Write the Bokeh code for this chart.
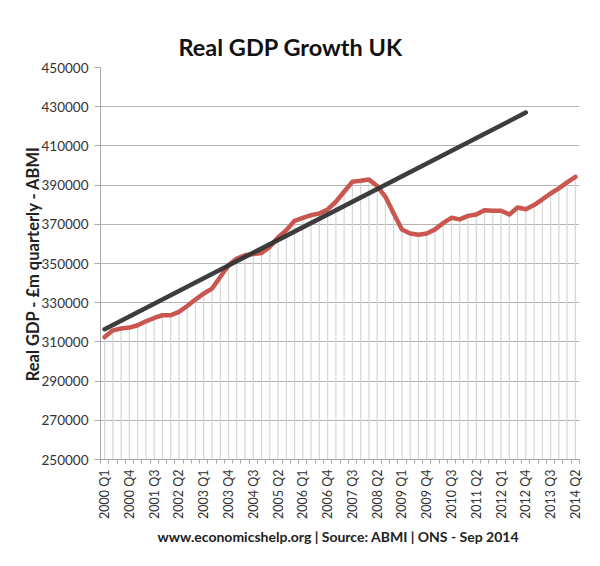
from bokeh.plotting import figure
from bokeh.models import FixedTicker, NumeralTickFormatter, Title, ColumnDataSource
from bokeh.embed import file_html
from bokeh.resources import INLINE
import math

# ---- data ----
years = list(range(2000, 2015))
quarters = [f"{y} Q{q}" for y in years for q in (1, 2, 3, 4)][:58]  # 2000 Q1 .. 2014 Q2

gdp = [
    312500, 315900, 316800, 317300, 318500, 320500, 322200, 323600, 323600, 325300,
    328300, 331600, 334700, 337200, 343100, 349100, 352500, 354200, 354800, 355400,
    358500, 363300, 367000, 371800, 373300, 374700, 375500, 377600, 381500, 386600,
    391700, 392200, 392900, 389500, 384000, 375500, 367300, 365300, 364700, 365300,
    367400, 370700, 373300, 372500, 374300, 375000, 377200, 376900, 376900, 375000,
    378600, 377700, 379800, 382700, 385700, 388300, 391400, 394200,
]

trend_idx = [0, 51]
trend_val = [316500, 427000]

y_ticks = list(range(250000, 450001, 20000))
label_every = 3

idx = list(range(len(gdp)))
src = ColumnDataSource(dict(x=idx, y=gdp, base=[250000] * len(gdp)))

p = figure(width=600, height=566, output_backend="svg", toolbar_location=None,
           x_range=(-0.5, len(gdp) - 0.5), y_range=(250000, 450000),
           min_border_left=100, min_border_right=21, min_border_top=67, min_border_bottom=107)
p.outline_line_color = None
p.background_fill_color = "white"
p.border_fill_color = "white"

# grid
p.xgrid.grid_line_color = None
p.ygrid.grid_line_color = "#b4b4b4"
p.ygrid.grid_line_width = 1

# drop lines
p.segment(x0="x", y0="base", x1="x", y1="y", source=src, line_color="#d6d6d6", line_width=1.2)

# series
p.line(x="x", y="y", source=src, line_color="#c9564f", line_width=4.5, line_join="round", line_cap="round")
p.line(x=trend_idx, y=trend_val, line_color="#333333", line_width=4.5, line_cap="round", line_alpha=0.95)

# y axis
ya = p.yaxis[0]
ya.ticker = FixedTicker(ticks=y_ticks)
ya.formatter = NumeralTickFormatter(format="0")
ya.axis_line_color = "#a8a8a8"
ya.major_tick_line_color = "#a8a8a8"
ya.major_tick_out = 6
ya.major_tick_in = 0
ya.minor_tick_line_color = None
ya.major_label_text_font = "Lato"
ya.major_label_text_font_size = "13.5px"
ya.major_label_text_color = "#333333"
ya.major_label_standoff = 6
ya.axis_label = "Real GDP - £m quarterly - ABMI"
ya.axis_label_text_font = "Lato"
ya.axis_label_text_font_size = "16.5px"
ya.axis_label_text_font_style = "bold"
ya.axis_label_text_color = "#222222"
ya.axis_label_standoff = -4

# x axis
xa = p.xaxis[0]
major = list(range(0, len(gdp), label_every))
xa.ticker = FixedTicker(ticks=major, minor_ticks=[i - 0.5 for i in range(len(gdp) + 1)])
xa.major_label_overrides = {i: quarters[i] for i in major}
xa.major_label_orientation = math.pi / 2
xa.axis_line_color = "#a8a8a8"
xa.major_tick_line_color = None
xa.minor_tick_line_color = "#a8a8a8"
xa.minor_tick_out = 4
xa.minor_tick_in = 0
xa.major_label_text_font = "Lato"
xa.major_label_text_font_size = "12.5px"
xa.major_label_text_color = "#333333"
xa.major_label_standoff = 4

# titles
p.title = Title(text="Real GDP Growth UK", align="left", offset=78,
                text_font="Lato", text_font_size="23.5px", text_font_style="bold",
                text_color="#111111", standoff=14)
p.add_layout(Title(text="www.economicshelp.org | Source:  ABMI | ONS - Sep 2014", align="center",
                   text_font="Lato", text_font_size="14px", text_font_style="bold",
                   text_color="#222222", standoff=9), "below")

open("out.html", "w").write(file_html(p, INLINE))
